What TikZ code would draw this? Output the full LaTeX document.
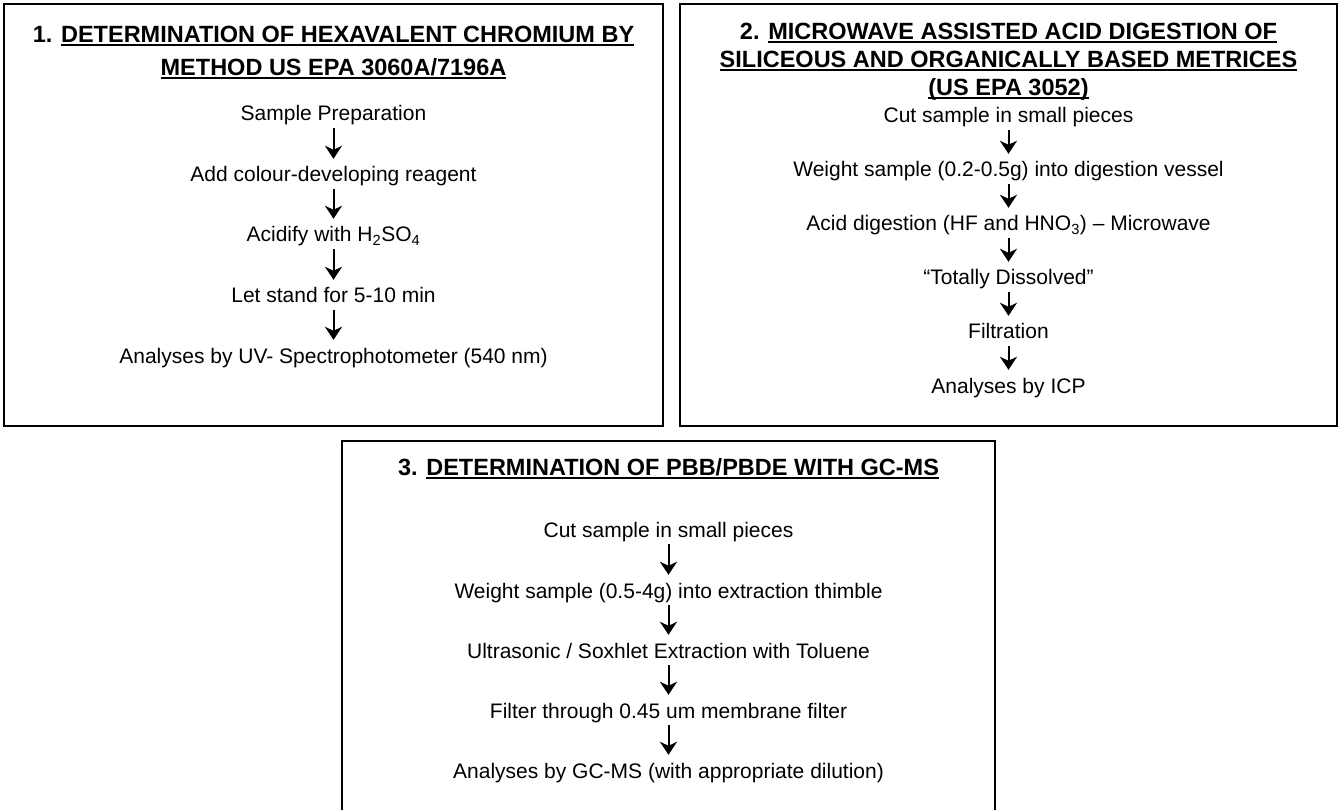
\documentclass[tikz,border=0pt]{standalone}
\usepackage{fontspec}
\setmainfont{Liberation Sans}
\usetikzlibrary{arrows.meta}

% underlined heading text
\newcommand{\ttlrule}[1]{\setbox0\hbox{#1}\rlap{\rule[-3.5pt]{\wd0}{2pt}}\box0}

\tikzset{
  procbox/.style={draw, line width=1.8pt},
  ttl/.style={anchor=base, inner sep=0pt, font=\fontsize{23.5}{28}\selectfont\bfseries},
  stepnode/.style={anchor=base, inner sep=0pt, text height=15pt, text depth=5pt,
    font=\fontsize{21}{25}\selectfont},
  flow/.style={-{Stealth[length=13pt,width=17pt,inset=4pt]}, line width=2pt,
    shorten <=2pt, shorten >=8pt}
}

\begin{document}
\begin{tikzpicture}[x=1pt,y=-1pt]
\clip (0,0) rectangle (1339,810);

% boxes
\draw[procbox] (4,4) rectangle (663,426);
\draw[procbox] (680,4) rectangle (1337,426);
\draw[procbox] (342,441) rectangle (995,830);

% 1. hexavalent chromium
\node[ttl] (t1a) at (333.5,43) {1. \ttlrule{DETERMINATION OF HEXAVALENT CHROMIUM BY}};
\node[ttl] (t1b) at (333.5,76) {\ttlrule{METHOD US EPA 3060A/7196A}};
\node[stepnode] (a1) at (333.5,121) {Sample Preparation};
\node[stepnode] (a2) at (333.5,182) {Add colour-developing reagent};
\node[stepnode] (a3) at (333.5,242) {Acidify with H\textsubscript{2}SO\textsubscript{4}};
\node[stepnode] (a4) at (333.5,303) {Let stand for 5-10 min};
\node[stepnode] (a5) at (333.5,363) {Analyses by UV- Spectrophotometer (540 nm)};
\draw[flow] (a1) -- (a2);
\draw[flow] (a2) -- (a3);
\draw[flow] (a3) -- (a4);
\draw[flow] (a4) -- (a5);

% 2. microwave digestion
\node[ttl] (t2a) at (1008.5,40) {2. \ttlrule{MICROWAVE ASSISTED ACID DIGESTION OF}};
\node[ttl] (t2b) at (1008.5,68) {\ttlrule{SILICEOUS AND ORGANICALLY BASED METRICES}};
\node[ttl] (t2c) at (1008.5,96) {\ttlrule{(US EPA 3052)}};
\node[stepnode] (b1) at (1008.5,123) {Cut sample in small pieces};
\node[stepnode] (b2) at (1008.5,177) {Weight sample (0.2-0.5g) into digestion vessel};
\node[stepnode] (b3) at (1008.5,231) {Acid digestion (HF and HNO\textsubscript{3}) – Microwave};
\node[stepnode] (b4) at (1008.5,285) {“Totally Dissolved”};
\node[stepnode] (b5) at (1008.5,339) {Filtration};
\node[stepnode] (b6) at (1008.5,393) {Analyses by ICP};
\draw[flow] (b1) -- (b2);
\draw[flow] (b2) -- (b3);
\draw[flow] (b3) -- (b4);
\draw[flow] (b4) -- (b5);
\draw[flow] (b5) -- (b6);

% 3. PBB/PBDE
\node[ttl] (t3) at (668.5,475) {3. \ttlrule{DETERMINATION OF PBB/PBDE WITH GC-MS}};
\node[stepnode] (c1) at (668.5,537) {Cut sample in small pieces};
\node[stepnode] (c2) at (668.5,598) {Weight sample (0.5-4g) into extraction thimble};
\node[stepnode] (c3) at (668.5,658) {Ultrasonic / Soxhlet Extraction with Toluene};
\node[stepnode] (c4) at (668.5,718) {Filter through 0.45 um membrane filter};
\node[stepnode] (c5) at (668.5,778) {Analyses by GC-MS (with appropriate dilution)};
\draw[flow] (c1) -- (c2);
\draw[flow] (c2) -- (c3);
\draw[flow] (c3) -- (c4);
\draw[flow] (c4) -- (c5);
\end{tikzpicture}
\end{document}
